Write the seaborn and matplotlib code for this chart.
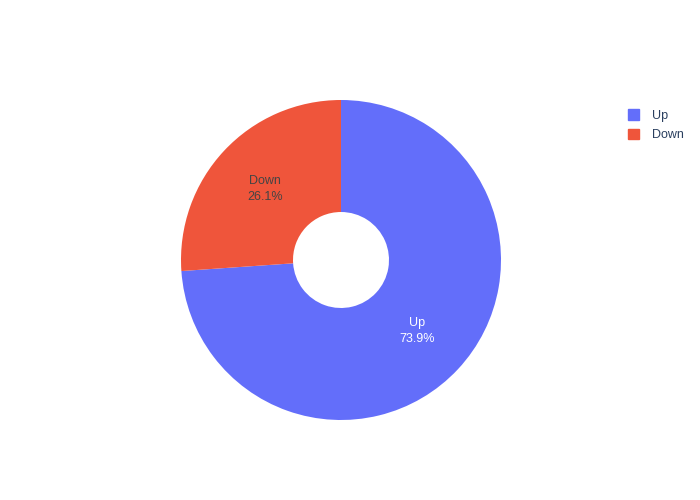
import matplotlib
matplotlib.use('Agg')
import matplotlib.pyplot as plt
import matplotlib.patches as mpatches
import seaborn as sb

# dados
labels = ['Up', 'Down']
values = [73.9, 26.1]
cores = ['#636efa', '#EF553B']
cor_texto = ['white', '#444444']

sb.set_theme(style='white')
plt.rcParams['font.family'] = ['Liberation Sans', 'DejaVu Sans']

fig = plt.figure(figsize=(7, 5), dpi=100)
ax = fig.add_axes([181 / 700, 80 / 500, 320 / 700, 320 / 500])

wedges, textos, autotextos = ax.pie(values, colors=cores, startangle=90, counterclock=False,
                                    autopct='%.1f%%', pctdistance=0.65, radius=1,
                                    wedgeprops=dict(width=0.7, linewidth=0))
for i, t in enumerate(autotextos):
    t.set_text(labels[i] + '\n' + t.get_text())
    t.set_color(cor_texto[i])
    t.set_fontsize(9)
    t.set_linespacing(1.35)
ax.set_xlim(-1, 1)
ax.set_ylim(-1, 1)
ax.set_aspect('equal')
ax.axis('off')

#legenda
handles = [mpatches.Patch(color=cores[i], label=labels[i]) for i in range(len(labels))]
leg = fig.legend(handles=handles, loc='upper left', bbox_to_anchor=(0.881, 0.804), frameon=False,
                 fontsize=9, handlelength=0.9, handleheight=0.9, handletextpad=1.0,
                 labelspacing=0.55)
for t in leg.get_texts():
    t.set_color('#2a3f5f')

plt.savefig('out.png', dpi=100)
